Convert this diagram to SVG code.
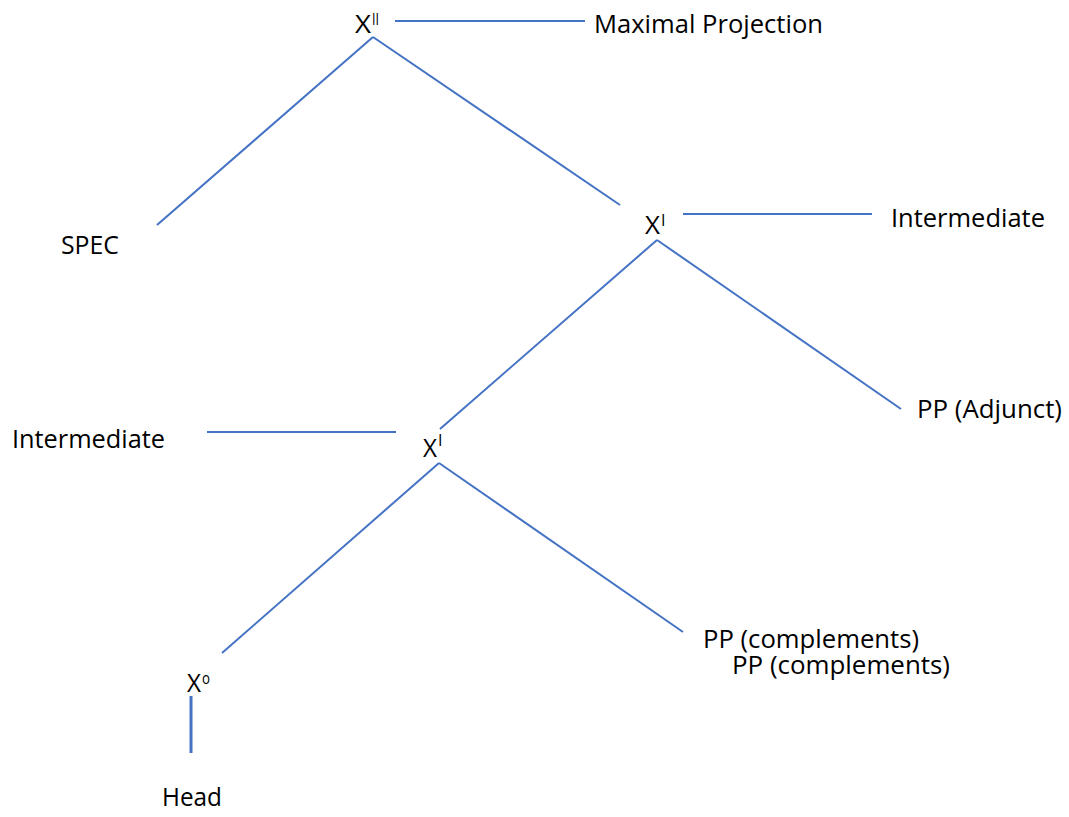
<svg xmlns="http://www.w3.org/2000/svg" width="1069" height="817" viewBox="0 0 1069 817">
  <style>
    .lbl { font-family: "Open Sans", "Liberation Sans", sans-serif; font-size: 25px; fill: #000; }
    .sup { font-size: 16px; }
    .edge { stroke: #4472C4; stroke-width: 2; fill: none; }
    .stem { stroke: #4472C4; stroke-width: 3; fill: none; }
  </style>
  <rect width="1069" height="817" fill="#fff"/>

  <!-- tree branches and label leaders -->
  <g id="connectors">
    <line class="edge" x1="395" y1="21" x2="585" y2="21"/>
    <line class="edge" x1="373" y1="37" x2="157" y2="225"/>
    <line class="edge" x1="373" y1="37" x2="620" y2="205"/>
    <line class="edge" x1="683" y1="214" x2="872" y2="214"/>
    <line class="edge" x1="657" y1="240" x2="440" y2="429"/>
    <line class="edge" x1="657" y1="240" x2="901" y2="409"/>
    <line class="edge" x1="207" y1="432" x2="396" y2="432"/>
    <line class="edge" x1="439" y1="463" x2="222" y2="653"/>
    <line class="edge" x1="439" y1="463" x2="683" y2="632"/>
    <line class="stem" x1="191" y1="696" x2="191" y2="753"/>
  </g>

  <g id="x-double-bar">
    <text class="lbl" x="355" y="33" textLength="16" lengthAdjust="spacingAndGlyphs">X</text>
    <text class="lbl sup" x="372" y="25" textLength="7" lengthAdjust="spacingAndGlyphs">II</text>
  </g>
  <g id="maximal-projection">
    <text class="lbl" x="594" y="33" textLength="229" lengthAdjust="spacingAndGlyphs">Maximal Projection</text>
  </g>
  <g id="spec">
    <text class="lbl" x="61" y="254" textLength="58" lengthAdjust="spacingAndGlyphs">SPEC</text>
  </g>
  <g id="x-bar-upper">
    <text class="lbl" x="645" y="234" textLength="15" lengthAdjust="spacingAndGlyphs">X</text>
    <text class="lbl sup" x="661" y="226">I</text>
  </g>
  <g id="intermediate-right">
    <text class="lbl" x="891" y="227" textLength="154" lengthAdjust="spacingAndGlyphs">Intermediate</text>
  </g>
  <g id="pp-adjunct">
    <text class="lbl" x="917" y="418" textLength="145" lengthAdjust="spacingAndGlyphs">PP (Adjunct)</text>
  </g>
  <g id="intermediate-left">
    <text class="lbl" x="12" y="448" textLength="153" lengthAdjust="spacingAndGlyphs">Intermediate</text>
  </g>
  <g id="x-bar-lower">
    <text class="lbl" x="423" y="457" textLength="14" lengthAdjust="spacingAndGlyphs">X</text>
    <text class="lbl sup" x="438" y="446">I</text>
  </g>
  <g id="pp-complements">
    <text class="lbl" x="703" y="648" textLength="216" lengthAdjust="spacingAndGlyphs">PP (complements)</text>
    <text class="lbl" x="732" y="674" textLength="218" lengthAdjust="spacingAndGlyphs">PP (complements)</text>
  </g>
  <g id="x-zero">
    <text class="lbl" x="187" y="692" textLength="14" lengthAdjust="spacingAndGlyphs">X</text>
    <text class="lbl sup" x="202" y="684" textLength="8" lengthAdjust="spacingAndGlyphs">o</text>
  </g>
  <g id="head">
    <text class="lbl" x="162" y="806" textLength="60" lengthAdjust="spacingAndGlyphs">Head</text>
  </g>
</svg>
